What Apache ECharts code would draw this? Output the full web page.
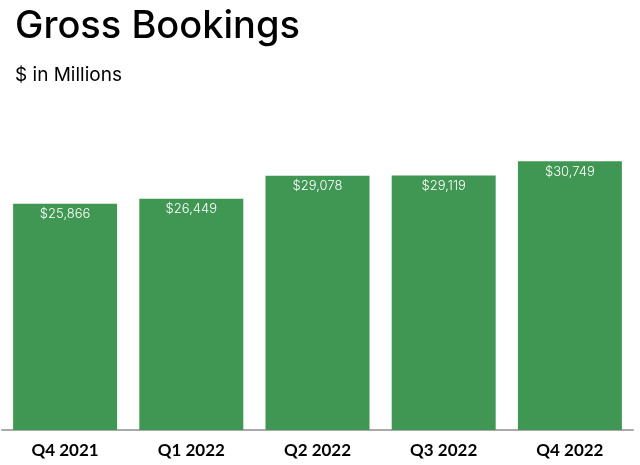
<!DOCTYPE html>
<html><head><meta charset="utf-8">
<script src="https://cdn.jsdelivr.net/npm/echarts@6/dist/echarts.min.js"></script>
<style>html,body{margin:0;padding:0;background:#fff}#c{width:640px;height:465px}</style>
</head><body><div id="c"></div>
<script>
const categories = ["Q4 2021", "Q1 2022", "Q2 2022", "Q3 2022", "Q4 2022"];
const bookings = [25866, 26449, 29078, 29119, 30749];
const titleText = "Gross Bookings";
const subtitleText = "$ in Millions";

const chart = echarts.init(document.getElementById('c'));
chart.setOption({
  animation: false,
  title: {
    text: titleText,
    subtext: subtitleText,
    left: 10, top: 3,
    itemGap: 20,
    textStyle: { fontFamily: 'Inter', fontWeight: 500, fontSize: 38, color: '#000' },
    subtextStyle: { fontFamily: 'Inter', fontWeight: 400, fontSize: 19, color: '#000' }
  },
  grid: { left: 2, right: 7, top: 124, bottom: 35 },
  xAxis: {
    type: 'category',
    data: categories,
    axisTick: { show: false },
    axisLine: { lineStyle: { color: '#aaaaaa', width: 2 } },
    axisLabel: { color: '#000', fontFamily: 'Lato', fontWeight: 'bold', fontSize: 17, margin: 12 }
  },
  yAxis: {
    type: 'value', min: 0, max: 35000,
    show: false, splitLine: { show: false }
  },
  series: [{
    type: 'bar',
    data: bookings,
    barCategoryGap: '17.6%',
    itemStyle: { color: '#409753' },
    label: {
      show: true, position: 'insideTop', distance: 4,
      color: '#fff', fontFamily: 'Inter', fontWeight: 300, fontSize: 13,
      formatter: p => '$' + p.value.toLocaleString('en-US')
    }
  }]
});
</script></body></html>
